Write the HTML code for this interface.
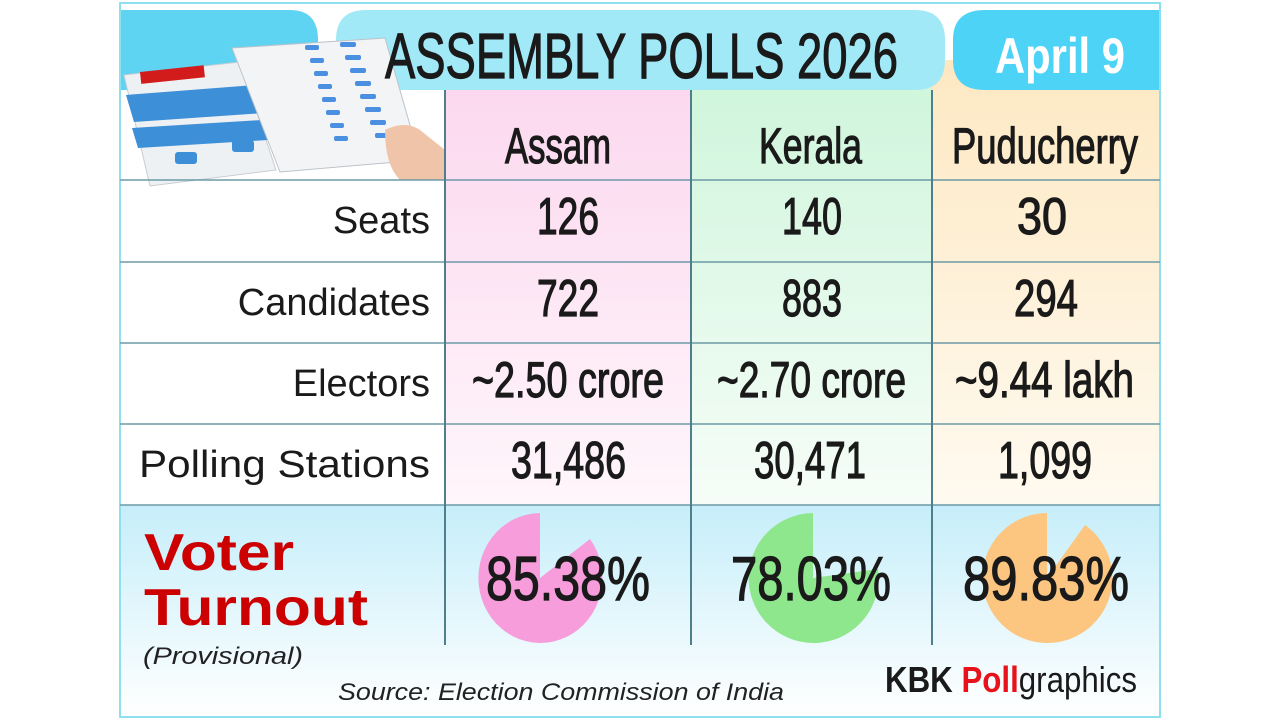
<!DOCTYPE html>
<html><head><meta charset="utf-8"><style>
html,body{margin:0;padding:0;background:#fff;width:1280px;height:720px;overflow:hidden}
</style></head><body>
<svg width="1280" height="720" viewBox="0 0 1280 720" xmlns="http://www.w3.org/2000/svg">
<defs>
<linearGradient id="gp" x1="0" y1="0" x2="0" y2="1"><stop offset="0" stop-color="#fbd6ee"/><stop offset="1" stop-color="#fff6fb"/></linearGradient>
<linearGradient id="gg" x1="0" y1="0" x2="0" y2="1"><stop offset="0" stop-color="#cdf5da"/><stop offset="1" stop-color="#f6fdf8"/></linearGradient>
<linearGradient id="gy" x1="0" y1="0" x2="0" y2="1"><stop offset="0" stop-color="#fde8c2"/><stop offset="1" stop-color="#fffaf0"/></linearGradient>
<linearGradient id="gb" x1="0" y1="0" x2="0" y2="1"><stop offset="0" stop-color="#c6eefa"/><stop offset="1" stop-color="#ffffff"/></linearGradient>
</defs>
<rect x="120" y="3" width="1040" height="714" fill="#fff" stroke="#8fe0ee" stroke-width="2"/>
<rect x="446" y="60" width="245" height="445" fill="url(#gp)"/>
<rect x="691" y="60" width="241" height="445" fill="url(#gg)"/>
<rect x="932" y="60" width="227" height="445" fill="url(#gy)"/>
<rect x="121" y="505" width="1038" height="211" fill="url(#gb)"/>
<path d="M121 10 H290 Q318 10 318 40 V90 H121 Z" fill="#5fd3f2"/>
<path d="M366 10 H915 Q945 10 945 40 V60 Q945 90 915 90 H336 V40 Q336 10 366 10 Z" fill="#a2e9f8"/>
<path d="M985 10 H1159 V90 H985 Q953 90 953 60 V40 Q953 10 985 10 Z" fill="#4cd3f6"/>
<g>
<path d="M124 75 L240 62 L276 170 L150 186 Z" fill="#eef1f3" stroke="#c8cdd2"/>
<rect x="140" y="72" width="64" height="12" fill="#d21c1c" transform="rotate(-6 140 72)"/>
<path d="M126 95 L255 85 L265 113 L134 122 Z" fill="#3d8fd8"/>
<path d="M132 128 L262 120 L268 140 L138 148 Z" fill="#3d8fd8"/>
<rect x="175" y="152" width="22" height="12" rx="3" fill="#3d8fd8"/>
<rect x="232" y="140" width="22" height="12" rx="3" fill="#3d8fd8"/>
<path d="M232 48 L385 38 L420 160 L280 172 Z" fill="#f2f4f6" stroke="#bcc3c9"/>
<g fill="#4a8fe0">
<rect x="305" y="45" width="14" height="5" rx="2"/><rect x="310" y="58" width="14" height="5" rx="2"/><rect x="314" y="71" width="14" height="5" rx="2"/><rect x="318" y="84" width="14" height="5" rx="2"/><rect x="322" y="97" width="14" height="5" rx="2"/><rect x="326" y="110" width="14" height="5" rx="2"/><rect x="330" y="123" width="14" height="5" rx="2"/><rect x="334" y="136" width="14" height="5" rx="2"/>
<rect x="340" y="42" width="16" height="5" rx="2"/><rect x="345" y="55" width="16" height="5" rx="2"/><rect x="350" y="68" width="16" height="5" rx="2"/><rect x="355" y="81" width="16" height="5" rx="2"/><rect x="360" y="94" width="16" height="5" rx="2"/><rect x="365" y="107" width="16" height="5" rx="2"/><rect x="370" y="120" width="16" height="5" rx="2"/><rect x="375" y="133" width="16" height="5" rx="2"/>
</g>
<path d="M385 130 Q405 120 420 130 L445 150 V180 H400 Q385 165 385 130 Z" fill="#f0c4a8"/>
</g>
<g stroke="#6c9aa6" stroke-width="1.5">
<line x1="120" y1="180" x2="1160" y2="180"/><line x1="120" y1="262" x2="1160" y2="262"/>
<line x1="120" y1="343" x2="1160" y2="343"/><line x1="120" y1="424" x2="1160" y2="424"/>
<line x1="120" y1="505" x2="1160" y2="505"/>
</g>
<g stroke="#4f7f8c" stroke-width="2">
<line x1="445" y1="90" x2="445" y2="645"/><line x1="691" y1="90" x2="691" y2="645"/><line x1="932" y1="90" x2="932" y2="645"/>
</g>
<path d="M540 578 L540 513 A62 65 0 1 0 590 539 Z" fill="#f79ddc"/>
<path d="M813 578 L813 513 A65 65 0 1 0 878 569 Z" fill="#8ee78c"/>
<path d="M1047 578 L1047 513 A65 65 0 1 0 1085 525 Z" fill="#fcc680"/>
<g font-family="'Liberation Sans Narrow','Liberation Sans',sans-serif" fill="#1a1a1a" stroke="#1a1a1a" stroke-width="1.2">
<text x="385" y="78" font-size="64" textLength="513" lengthAdjust="spacingAndGlyphs">ASSEMBLY POLLS 2026</text>
<text x="995" y="73" font-size="50" font-weight="bold" fill="#fff" stroke="none" textLength="130" lengthAdjust="spacingAndGlyphs">April 9</text>
<text x="505" y="163" font-size="50" textLength="106" lengthAdjust="spacingAndGlyphs">Assam</text>
<text x="759" y="163" font-size="50" textLength="103" lengthAdjust="spacingAndGlyphs">Kerala</text>
<text x="952" y="163" font-size="50" textLength="186" lengthAdjust="spacingAndGlyphs">Puducherry</text>
<text x="537" y="234" font-size="52" textLength="62" lengthAdjust="spacingAndGlyphs">126</text>
<text x="782" y="234" font-size="52" textLength="60" lengthAdjust="spacingAndGlyphs">140</text>
<text x="1017" y="234" font-size="52" textLength="50" lengthAdjust="spacingAndGlyphs">30</text>
<text x="537" y="316" font-size="52" textLength="62" lengthAdjust="spacingAndGlyphs">722</text>
<text x="782" y="316" font-size="52" textLength="60" lengthAdjust="spacingAndGlyphs">883</text>
<text x="1014" y="316" font-size="52" textLength="64" lengthAdjust="spacingAndGlyphs">294</text>
<text x="472" y="397" font-size="50" textLength="192" lengthAdjust="spacingAndGlyphs">~2.50 crore</text>
<text x="717" y="397" font-size="50" textLength="189" lengthAdjust="spacingAndGlyphs">~2.70 crore</text>
<text x="955" y="397" font-size="50" textLength="179" lengthAdjust="spacingAndGlyphs">~9.44 lakh</text>
<text x="511" y="478" font-size="52" textLength="115" lengthAdjust="spacingAndGlyphs">31,486</text>
<text x="754" y="478" font-size="52" textLength="112" lengthAdjust="spacingAndGlyphs">30,471</text>
<text x="998" y="478" font-size="52" textLength="94" lengthAdjust="spacingAndGlyphs">1,099</text>
<text x="486" y="600" font-size="62" textLength="164" lengthAdjust="spacingAndGlyphs">85.38%</text>
<text x="731" y="600" font-size="62" textLength="160" lengthAdjust="spacingAndGlyphs">78.03%</text>
<text x="963" y="600" font-size="62" textLength="166" lengthAdjust="spacingAndGlyphs">89.83%</text>
</g>
<text x="885" y="692" font-family="'Liberation Sans Narrow','Liberation Sans',sans-serif" font-size="36" font-weight="bold" fill="#1a1a1a" textLength="252" lengthAdjust="spacingAndGlyphs">KBK <tspan fill="#e8121c">Poll</tspan><tspan font-weight="normal">graphics</tspan></text>
<g font-family="'Liberation Sans',sans-serif" fill="#1a1a1a" font-size="38" text-anchor="end">
<text x="430" y="233">Seats</text>
<text x="430" y="315">Candidates</text>
<text x="430" y="396">Electors</text>
<text x="430" y="477" textLength="291" lengthAdjust="spacingAndGlyphs">Polling Stations</text>
</g>
<g font-family="'Liberation Sans',sans-serif" font-weight="bold" fill="#cc0000" font-size="52">
<text x="144" y="570" textLength="150" lengthAdjust="spacingAndGlyphs">Voter</text>
<text x="144" y="625" textLength="224" lengthAdjust="spacingAndGlyphs">Turnout</text>
</g>
<text x="143" y="664" font-family="'Liberation Sans',sans-serif" font-style="italic" font-size="24" fill="#222" textLength="160" lengthAdjust="spacingAndGlyphs">(Provisional)</text>
<text x="338" y="700" font-family="'Liberation Sans',sans-serif" font-style="italic" font-size="24" fill="#222" textLength="446" lengthAdjust="spacingAndGlyphs">Source: Election Commission of India</text>
</svg>
</body></html>
